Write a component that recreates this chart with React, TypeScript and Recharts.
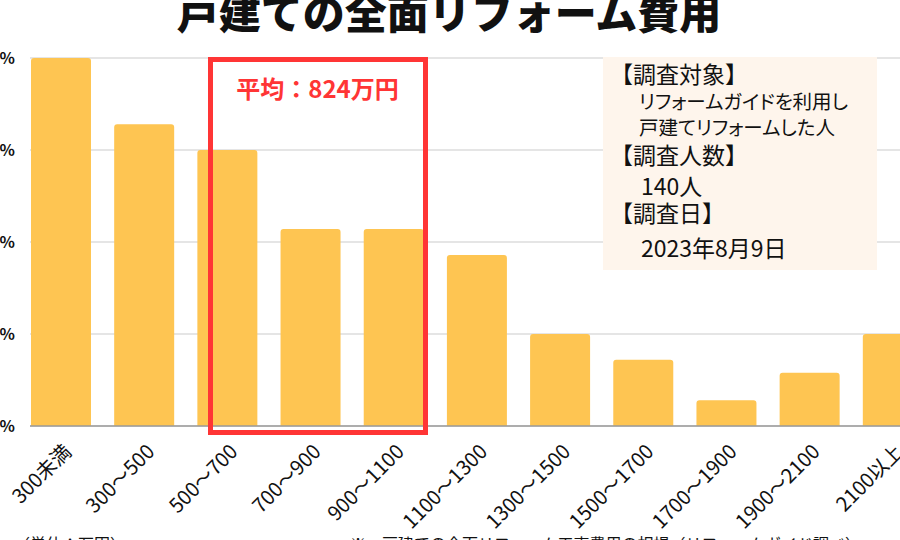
import { BarChart, Bar, XAxis, YAxis, CartesianGrid } from "recharts";

const categories = [
  "300未満",
  "300～500",
  "500～700",
  "700～900",
  "900～1100",
  "1100～1300",
  "1300～1500",
  "1500～1700",
  "1700～1900",
  "1900～2100",
  "2100以上",
];
// share of respondents (%), n = 140
const shares = [20.0, 16.4, 15.0, 10.7, 10.7, 9.3, 5.0, 3.6, 1.4, 2.9, 5.0];
const yTicks = [0, 5, 10, 15, 20];

const title = "戸建ての全面リフォーム費用";
const averageLabel = "平均：824万円";

const FONT = '"Noto Sans CJK JP", "Noto Sans", sans-serif';
const BAR = "#FEC552";
const RED = "#FF3535";

const chartData = categories.map((name, i) => ({ name, value: shares[i] }));

function XTick({ x, y, payload }: any) {
  return (
    <g transform={`translate(${x + 12},${y + 27})`}>
      <text
        transform="rotate(-45)"
        textAnchor="end"
        fontSize={20}
        fontFamily={FONT}
        fill="#111"
      >
        {payload.value}
      </text>
    </g>
  );
}

const palt = { fontFeatureSettings: '"palt"' };

export default function App() {
  return (
    <div
      style={{
        position: "fixed",
        left: 0,
        top: 0,
        width: 900,
        height: 540,
        overflow: "hidden",
        background: "#fff",
      }}
    >
      <div style={{ position: "absolute", left: -40, top: 0 }}>
        <BarChart
          width={980}
          height={540}
          data={chartData}
          margin={{ top: 58, right: 6, left: 0, bottom: 4 }}
        >
          <CartesianGrid vertical={false} stroke="#dcdcdc" strokeWidth={1.5} />
          <XAxis
            dataKey="name"
            interval={0}
            height={110}
            padding={{ left: -11, right: 0 }}
            axisLine={{ stroke: "#9a9a9a", strokeWidth: 1.5 }}
            tickLine={false}
            tickSize={0}
            tickMargin={0}
            tick={<XTick />}
          />
          <YAxis
            width={70}
            domain={[0, 20]}
            ticks={yTicks}
            axisLine={false}
            tickLine={false}
            tickSize={0}
            tickMargin={15}
            tickFormatter={(v: number) => `${v}%`}
            tick={{ fontSize: 16, fontWeight: 700, fill: "#111", fontFamily: FONT }}
          />
          <Bar
            dataKey="value"
            fill={BAR}
            barSize={60}
            radius={[3, 3, 0, 0]}
            isAnimationActive={false}
          />
        </BarChart>
      </div>

      <svg
        width={900}
        height={540}
        style={{ position: "absolute", left: 0, top: 0, pointerEvents: "none" }}
        fontFamily={FONT}
      >
        <text x={449} y={29} textAnchor="middle" fontSize={42} fontWeight={900} fill="#111">
          {title}
        </text>

        {/* highlight box around the average band */}
        <rect x={210.5} y={59.5} width={215} height={373} fill="none" stroke={RED} strokeWidth={5} />
        <text x={317.5} y={98} textAnchor="middle" fontSize={24} fontWeight={700} fill={RED}>
          {averageLabel}
        </text>

        {/* survey info */}
        <rect x={603} y={57} width={274} height={213} fill="#FEF5EC" />
        <g fill="#111">
          <text x={610} y={83} fontSize={23}>【調査対象】</text>
          <text x={639} y={109} fontSize={19.5} style={palt}>リフォームガイドを利用し</text>
          <text x={639} y={135} fontSize={19.5} style={palt}>戸建てリフォームした人</text>
          <text x={610} y={164} fontSize={23}>【調査人数】</text>
          <text x={641} y={195} fontSize={23}>140人</text>
          <text x={610} y={222} fontSize={23}>【調査日】</text>
          <text x={641} y={257} fontSize={23}>2023年8月9日</text>
        </g>

        <text x={14} y={550} fontSize={16} fill="#111">（単位：万円）</text>
        <text x={350} y={550} fontSize={16} fill="#111">
          ※一戸建ての全面リフォーム工事費用の相場（リフォームガイド調べ）
        </text>
      </svg>
    </div>
  );
}
